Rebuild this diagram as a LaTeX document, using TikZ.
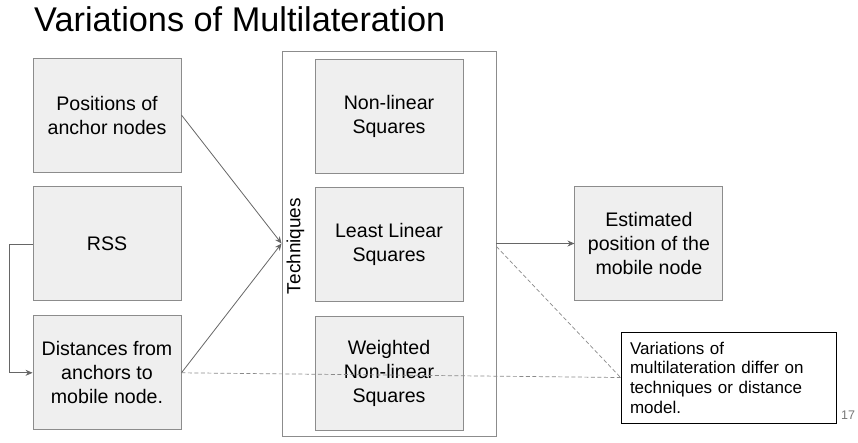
\documentclass[tikz,border=0pt]{standalone}
\usepackage{fontspec}
\setmainfont{Liberation Sans}
\usetikzlibrary{positioning,arrows.meta}
\definecolor{boxfill}{HTML}{EFEFEF}
\definecolor{boxline}{HTML}{8C8C8C}
\definecolor{wire}{HTML}{666666}
\definecolor{dashwire}{HTML}{8A8A8A}
\definecolor{pagegray}{HTML}{777777}

\begin{document}
\begin{tikzpicture}[x=1pt, y=-1pt,
  block/.style={draw=boxline, line width=0.9pt, fill=boxfill,
               minimum width=148pt, minimum height=114pt,
               align=center, font=\fontsize{19.6}{24}\selectfont,
               inner sep=2pt},
  frame/.style={draw=boxline, line width=0.9pt,
               minimum width=214pt, minimum height=385pt, inner sep=0pt},
  note/.style={draw=black, line width=0.8pt, fill=white,
               text width=197pt, minimum height=91pt, align=left,
               font=\fontsize{17}{19.7}\selectfont,
               inner xsep=9pt, inner ysep=0pt},
  link/.style={draw=wire, line width=0.8pt,
               -{Stealth[length=7pt, width=6pt]}},
  hint/.style={draw=dashwire, line width=0.7pt, dash pattern=on 4pt off 2.5pt},
  ]
  \useasboundingbox (0,0) rectangle (858,442);

  % title
  \node[font=\fontsize{34.3}{40}\selectfont, anchor=base west, inner sep=0pt]
    (title) at (34,31) {Variations of Multilateration};

  % inputs
  \node[block] (pos) at (107,115) {Positions of\\anchor nodes};
  \node[block, below=14pt of pos] (rss) {RSS};
  \node[block, below=14pt of rss] (dist) {Distances from\\anchors to\\mobile node.};

  % techniques
  \node[frame] (tech) at (389,243.5) {};
  \node[rotate=90, font=\fontsize{19}{23}\selectfont, inner sep=0pt]
    (techlabel) at ([xshift=14pt, yshift=-2.5pt]tech.west) {Techniques};
  \node[block] (nls) at (389,116) {Non-linear\\Squares};
  \node[block, below=14pt of nls] (lls) {Least Linear\\Squares};
  \node[block, below=14pt of lls] (wnls) {Weighted\\Non-linear\\Squares};

  % output
  \node[block, right=78pt of tech] (est) {Estimated\\position of the\\mobile node};

  % remark
  \node[note] (rem) at (728.5,377.5)
    {Variations of\\multilateration differ on\\techniques or distance\\model.};
  \node[font=\fontsize{12.5}{15}\selectfont, text=pagegray, anchor=base]
    (page) at (848,419) {17};

  \draw[link] (pos.east) -- (tech.west);
  \draw[link] (dist.east) -- (tech.west);
  \draw[link] (rss.west) -- ++(-23,0) |- (dist.west);
  \draw[link] (tech.east) -- (est.west);
  \draw[hint] ([yshift=-3pt]tech.east) -- (rem.west);
  \draw[hint] (dist.east) -- (rem.west);
\end{tikzpicture}
\end{document}
